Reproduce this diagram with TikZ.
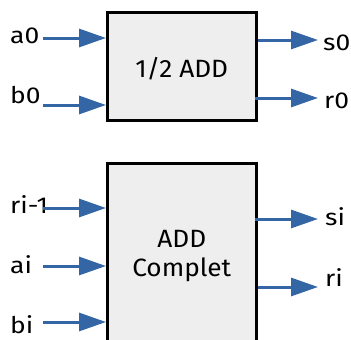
\documentclass[tikz,border=0pt]{standalone}
\usepackage{fontspec}
\setmainfont{Fira Sans}
\newfontfamily\pinfont[FakeStretch=1.15]{Fira Sans}
\newfontfamily\blockfont[FakeStretch=1.05]{Fira Sans}
\usetikzlibrary{arrows.meta}
\definecolor{wireblue}{HTML}{3465A4}
\definecolor{boxfill}{HTML}{EEEEEE}
\begin{document}
\begin{tikzpicture}[x=1pt,y=-1pt,
  block/.style={draw=black, line width=3pt, fill=boxfill, align=center,
    inner sep=0pt, font=\blockfont\fontsize{25}{29}\selectfont},
  wire/.style={draw=wireblue, line width=3pt,
    -{Triangle[length=27pt,width=18pt]}},
  pin/.style={inner sep=0pt, anchor=base west, font=\pinfont\fontsize{23}{26}\selectfont}]
\useasboundingbox (0,0) rectangle (351,340);
\clip (0,0) rectangle (351,340);

% half adder
\node[block, minimum width=148.5pt, minimum height=108pt,
  text height=22pt, text depth=0pt] (half) at (181.75,66) {1/2 ADD};
% full adder (runs off the lower edge)
\node[block, minimum width=148.5pt, minimum height=185pt] (full) at (181.75,256) {ADD\\Complet};

% pin labels (placed by their baselines)
\node[pin] (la0) at (10,43) {a0};
\node[pin] (lb0) at (10,103) {b0};
\node[pin] (ls0) at (323,50) {s0};
\node[pin] (lr0) at (324,108) {r0};
\node[pin] (lri1) at (10,213) {ri-1};
\node[pin] (lai) at (10,273) {ai};
\node[pin] (lbi) at (10,333) {bi};
\node[pin] (lsi) at (325,225) {si};
\node[pin] (lri) at (325,286) {ri};

% wire end points
\coordinate (a0s) at (43,38);
\coordinate (b0s) at (43,105);
\coordinate (s0e) at (318,40);
\coordinate (r0e) at (318,98);
\coordinate (ri1s) at (43,208);
\coordinate (ais) at (43,266);
\coordinate (bis) at (43,322);
\coordinate (sie) at (318,219);
\coordinate (rie) at (318,287);

% half adder wires
\draw[wire] (a0s) -- (half.west |- a0s);
\draw[wire] (b0s) -- (half.west |- b0s);
\draw[wire] (half.east |- s0e) -- (s0e);
\draw[wire] ([xshift=-3pt]half.east |- r0e) -- (r0e);

% full adder wires
\draw[wire] (ri1s) -- (full.west |- ri1s);
\draw[wire] (ais) -- (full.west |- ais);
\draw[wire] (bis) -- (full.west |- bis);
\draw[wire] ([xshift=-3pt]full.east |- sie) -- (sie);
\draw[wire] (full.east |- rie) -- (rie);
\end{tikzpicture}
\end{document}
